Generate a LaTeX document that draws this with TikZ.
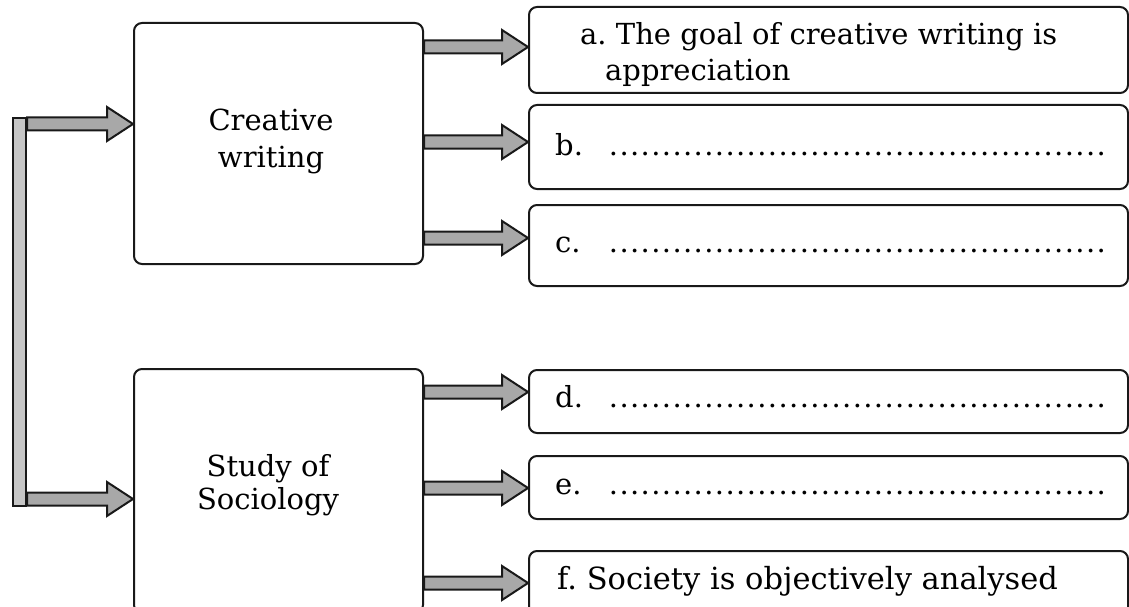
\documentclass[tikz,border=0pt]{standalone}
\usepackage{fontspec}
\setmainfont{DejaVu Serif}
\frenchspacing
\usetikzlibrary{calc}
\definecolor{arrgray}{HTML}{A8A8A8}
\definecolor{bargray}{HTML}{C6C6C6}
\tikzset{
  box/.style={draw=black!90, line width=2pt, rounded corners=8pt, fill=white, inner sep=0pt},
  fatarrow/.style={draw=black!90, line width=2pt, fill=arrgray, line join=miter},
  bar/.style={draw=black!90, line width=2pt, fill=bargray},
  txt/.style={inner sep=0pt, font=\fontsize{29}{34}\selectfont},
  bigtxt/.style={inner sep=0pt, font=\fontsize{30.5}{36}\selectfont},
}
\newcommand\fatarr[2]{%
  \draw[fatarrow] ($(#1)+(0,6.5)$) -- ($(#2)+(-26,6.5)$) -- ($(#2)+(-26,17)$) -- (#2)
    -- ($(#2)+(-26,-17)$) -- ($(#2)+(-26,-6.5)$) -- ($(#1)+(0,-6.5)$) -- cycle;}
\newcommand\dotrow[1]{\makebox[553pt][l]{#1\hspace{22pt}\leaders\hbox to 10.6pt{\hss.\hss}\hfill\hspace{0pt}}}
\begin{document}
\begin{tikzpicture}[x=1pt,y=-1pt]
\useasboundingbox (0,0) rectangle (1129,607);
\clip (0,0) rectangle (1129,607);
% left boxes
\node[box, minimum width=289, minimum height=241, anchor=north west] (cw) at (133,22) {};
\node[box, minimum width=289, minimum height=244, anchor=north west] (ss) at (133,368) {};
% right boxes
\node[box, minimum width=599, minimum height=86, anchor=north west] (ra) at (528,6) {};
\node[box, minimum width=599, minimum height=84, anchor=north west] (rb) at (528,104) {};
\node[box, minimum width=599, minimum height=81, anchor=north west] (rc) at (528,204) {};
\node[box, minimum width=599, minimum height=63, anchor=north west] (rd) at (528,369) {};
\node[box, minimum width=599, minimum height=63, anchor=north west] (re) at (528,455) {};
\node[box, minimum width=599, minimum height=70, anchor=north west] (rf) at (528,550) {};
% texts
\node[txt, anchor=base] (t1) at (271,131) {Creative};
\node[txt, anchor=base] (t2) at (271,167) {writing};
\node[txt, anchor=base] (t3) at (268,476) {Study of};
\node[txt, anchor=base] (t4) at (268,509) {Sociology};
\node[txt, anchor=base west] (ta1) at (580,45) {a. The goal of creative writing is};
\node[txt, anchor=base west] (ta2) at (605,81) {appreciation};
\node[txt, anchor=base west] (tb) at (555,155) {\dotrow{b.}};
\node[txt, anchor=base west] (tc) at (555,252) {\dotrow{c.}};
\node[txt, anchor=base west] (td) at (555,407) {\dotrow{d.}};
\node[txt, anchor=base west] (te) at (555,494) {\dotrow{e.}};
\node[bigtxt, anchor=base west] (tf) at (557,589) {f. Society is objectively analysed};
% arrow tips
\coordinate (pa) at (528,47);
\coordinate (pb) at (528,142);
\coordinate (pc) at (528,238);
\coordinate (pd) at (528,392);
\coordinate (pe) at (528,488);
\coordinate (pf) at (528,583);
\fatarr{cw.east |- pa}{pa}
\fatarr{cw.east |- pb}{pb}
\fatarr{cw.east |- pc}{pc}
\fatarr{ss.east |- pd}{pd}
\fatarr{ss.east |- pe}{pe}
\fatarr{ss.east |- pf}{pf}
% left bar
\node[bar, minimum width=13, minimum height=388, anchor=north west] (lb) at (12,117) {};
\coordinate (pt) at (133,124);
\coordinate (pbt) at (133,499);
\fatarr{lb.east |- pt}{pt}
\fatarr{lb.east |- pbt}{pbt}
\end{tikzpicture}
\end{document}
